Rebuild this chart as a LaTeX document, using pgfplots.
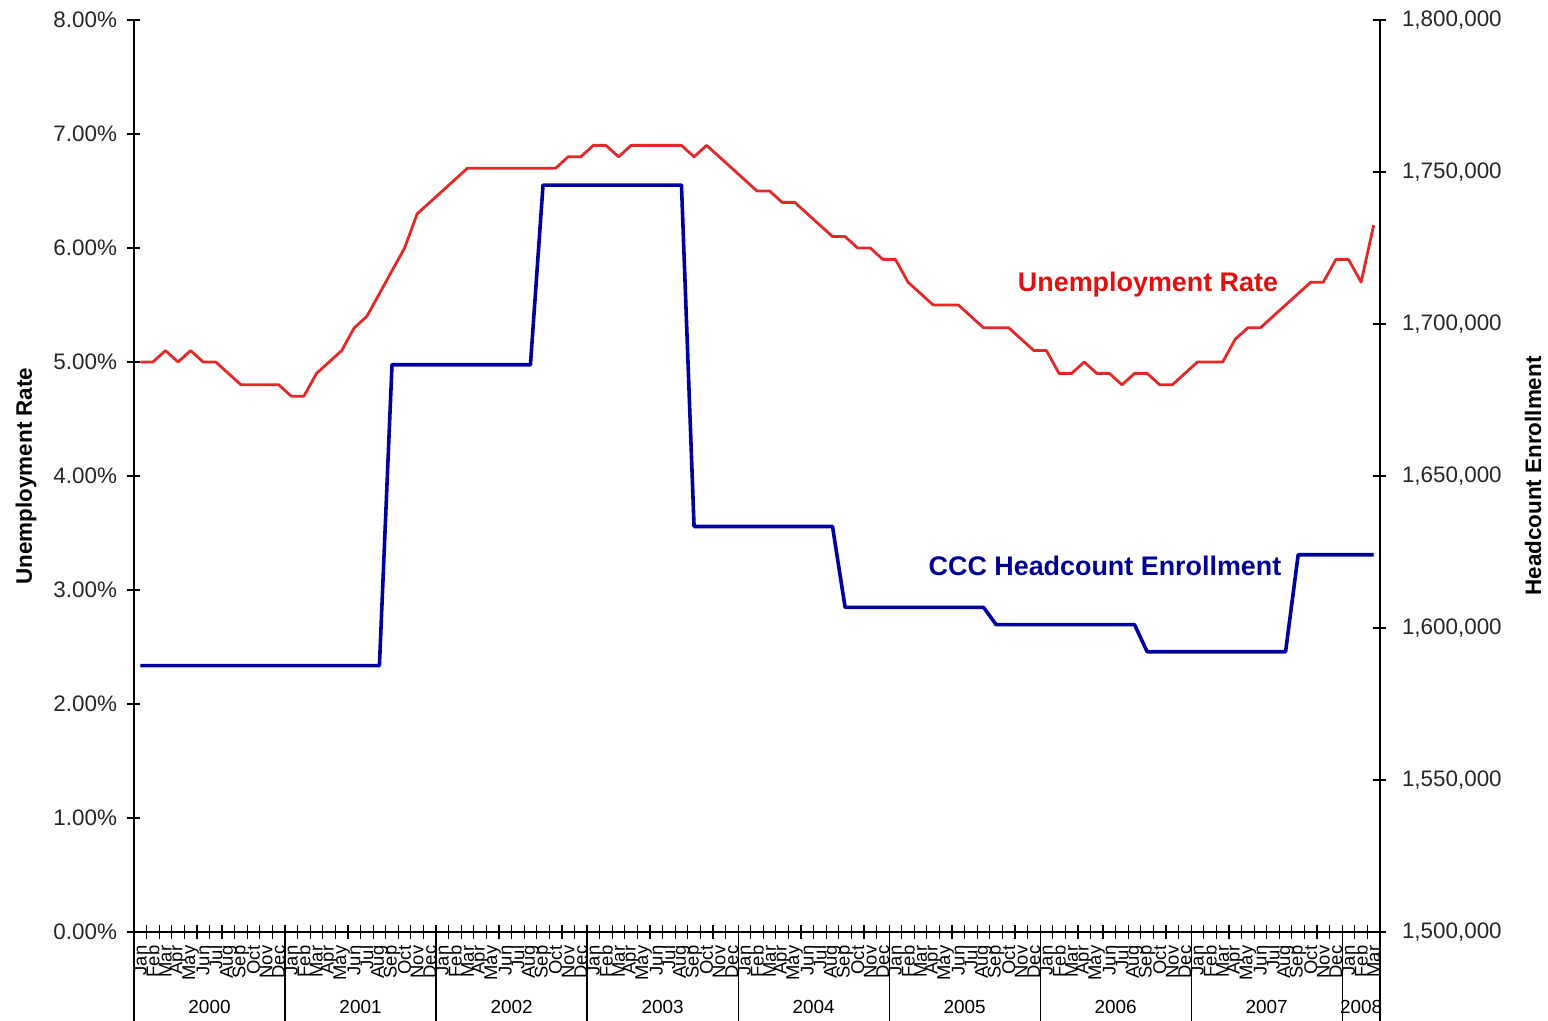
\documentclass[border=0pt]{standalone}
\usepackage{pgfplots}
\usepackage{pgfplotstable}
\pgfplotsset{compat=1.18}
\usepackage{fontspec}
\setmainfont{Liberation Sans}
\definecolor{ured}{RGB}{228,40,40}
\definecolor{utext}{RGB}{222,16,16}
\definecolor{cblue}{RGB}{0,0,160}
\definecolor{ctext}{RGB}{0,0,150}

% California unemployment rate, Jan 2000 - Mar 2008 (monthly)
\pgfplotstableread{
rate
5.0
5.0
5.1
5.0
5.1
5.0
5.0
4.9
4.8
4.8
4.8
4.8
4.7
4.7
4.9
5.0
5.1
5.3
5.4
5.6
5.8
6.0
6.3
6.4
6.5
6.6
6.7
6.7
6.7
6.7
6.7
6.7
6.7
6.7
6.8
6.8
6.9
6.9
6.8
6.9
6.9
6.9
6.9
6.9
6.8
6.9
6.8
6.7
6.6
6.5
6.5
6.4
6.4
6.3
6.2
6.1
6.1
6.0
6.0
5.9
5.9
5.7
5.6
5.5
5.5
5.5
5.4
5.3
5.3
5.3
5.2
5.1
5.1
4.9
4.9
5.0
4.9
4.9
4.8
4.9
4.9
4.8
4.8
4.9
5.0
5.0
5.0
5.2
5.3
5.3
5.4
5.5
5.6
5.7
5.7
5.9
5.9
5.7
6.2
}\unemp

% CCC headcount enrollment, Jan 2000 - Mar 2008 (monthly)
\pgfplotstableread{
enroll
1587600
1587600
1587600
1587600
1587600
1587600
1587600
1587600
1587600
1587600
1587600
1587600
1587600
1587600
1587600
1587600
1587600
1587600
1587600
1587600
1686600
1686600
1686600
1686600
1686600
1686600
1686600
1686600
1686600
1686600
1686600
1686600
1745700
1745700
1745700
1745700
1745700
1745700
1745700
1745700
1745700
1745700
1745700
1745700
1633400
1633400
1633400
1633400
1633400
1633400
1633400
1633400
1633400
1633400
1633400
1633400
1606800
1606800
1606800
1606800
1606800
1606800
1606800
1606800
1606800
1606800
1606800
1606800
1601100
1601100
1601100
1601100
1601100
1601100
1601100
1601100
1601100
1601100
1601100
1601100
1592200
1592200
1592200
1592200
1592200
1592200
1592200
1592200
1592200
1592200
1592200
1592200
1624100
1624100
1624100
1624100
1624100
1624100
1624100
}\ccc

\begin{document}
\begin{tikzpicture}
\useasboundingbox (-134bp,-89bp) rectangle (1414bp,932bp);
\begin{axis}[
  scale only axis, width=1246bp, height=912bp,
  xmin=-0.5, xmax=98.5, ymin=0, ymax=8,
  axis x line*=bottom, axis y line*=left,
  axis line style={line width=1.2bp, black},
  tick style={line width=1.2bp, black},
  tick align=center,
  major tick length=13bp, minor tick length=13bp,
  ytick={0,1,2,3,4,5,6,7,8},
  yticklabel={\pgfmathprintnumber[fixed,fixed zerofill,precision=2]{\tick}\%},
  yticklabel style={font=\fontsize{22.5}{22.5}\selectfont, text=black!85, xshift=-7bp},
  xtick={0,...,98},
  major x tick style={draw=none},
  minor xtick={-0.5,0.5,...,98.5},
  xticklabels={Jan,Feb,Mar,Apr,May,Jun,Jul,Aug,Sep,Oct,Nov,Dec,
    Jan,Feb,Mar,Apr,May,Jun,Jul,Aug,Sep,Oct,Nov,Dec,
    Jan,Feb,Mar,Apr,May,Jun,Jul,Aug,Sep,Oct,Nov,Dec,
    Jan,Feb,Mar,Apr,May,Jun,Jul,Aug,Sep,Oct,Nov,Dec,
    Jan,Feb,Mar,Apr,May,Jun,Jul,Aug,Sep,Oct,Nov,Dec,
    Jan,Feb,Mar,Apr,May,Jun,Jul,Aug,Sep,Oct,Nov,Dec,
    Jan,Feb,Mar,Apr,May,Jun,Jul,Aug,Sep,Oct,Nov,Dec,
    Jan,Feb,Mar,Apr,May,Jun,Jul,Aug,Sep,Oct,Nov,Dec,
    Jan,Feb,Mar},
  xticklabel style={rotate=90, anchor=east, font=\fontsize{18.5}{18.5}\selectfont, inner sep=1bp, xshift=-6bp},
  ylabel={Unemployment Rate},
  ylabel style={at={(axis description cs:-0.0867,0.5)}, anchor=center, rotate=0, font=\fontsize{22.5}{22.5}\selectfont\bfseries},
  /pgf/number format/assume math mode=true,
  clip=false,
]
\addplot[ured, line width=2.8bp, line join=round, mark=none] table[x expr=\coordindex, y=rate]{\unemp};
\draw[line width=1.2bp] (axis cs:-0.5,0) -- ([yshift=-89bp]axis cs:-0.5,0);
\draw[line width=1.2bp] (axis cs:11.5,0) -- ([yshift=-89bp]axis cs:11.5,0);
\draw[line width=1.2bp] (axis cs:23.5,0) -- ([yshift=-89bp]axis cs:23.5,0);
\draw[line width=1.2bp] (axis cs:35.5,0) -- ([yshift=-89bp]axis cs:35.5,0);
\draw[line width=1.2bp] (axis cs:47.5,0) -- ([yshift=-89bp]axis cs:47.5,0);
\draw[line width=1.2bp] (axis cs:59.5,0) -- ([yshift=-89bp]axis cs:59.5,0);
\draw[line width=1.2bp] (axis cs:71.5,0) -- ([yshift=-89bp]axis cs:71.5,0);
\draw[line width=1.2bp] (axis cs:83.5,0) -- ([yshift=-89bp]axis cs:83.5,0);
\draw[line width=1.2bp] (axis cs:95.5,0) -- ([yshift=-89bp]axis cs:95.5,0);
\draw[line width=1.2bp] (axis cs:98.5,0) -- ([yshift=-89bp]axis cs:98.5,0);
\node[font=\fontsize{19}{19}\selectfont, yshift=-75bp] at (axis cs:5.5,0) {2000};
\node[font=\fontsize{19}{19}\selectfont, yshift=-75bp] at (axis cs:17.5,0) {2001};
\node[font=\fontsize{19}{19}\selectfont, yshift=-75bp] at (axis cs:29.5,0) {2002};
\node[font=\fontsize{19}{19}\selectfont, yshift=-75bp] at (axis cs:41.5,0) {2003};
\node[font=\fontsize{19}{19}\selectfont, yshift=-75bp] at (axis cs:53.5,0) {2004};
\node[font=\fontsize{19}{19}\selectfont, yshift=-75bp] at (axis cs:65.5,0) {2005};
\node[font=\fontsize{19}{19}\selectfont, yshift=-75bp] at (axis cs:77.5,0) {2006};
\node[font=\fontsize{19}{19}\selectfont, yshift=-75bp] at (axis cs:89.5,0) {2007};
\node[font=\fontsize{19}{19}\selectfont, yshift=-75bp] at (axis cs:97,0) {2008};
\end{axis}
\begin{axis}[
  scale only axis, width=1246bp, height=912bp,
  xmin=-0.5, xmax=98.5, ymin=1500000, ymax=1800000,
  axis x line=none, axis y line*=right,
  axis line style={line width=1.2bp, black},
  tick style={line width=1.2bp, black},
  tick align=center,
  major tick length=13bp,
  ytick={1500000,1550000,1600000,1650000,1700000,1750000,1800000},
  scaled y ticks=false,
  /pgf/number format/fixed,
  /pgf/number format/1000 sep={,},
  /pgf/number format/assume math mode=true,
  yticklabel style={font=\fontsize{22.5}{22.5}\selectfont, text=black!85, xshift=12bp},
  ylabel={Headcount Enrollment},
  ylabel style={at={(axis description cs:1.1228,0.5)}, anchor=center, rotate=0, font=\fontsize{22.5}{22.5}\selectfont\bfseries},
  clip=false,
]
\addplot[cblue, line width=3.6bp, line join=round, mark=none] table[x expr=\coordindex, y=enroll]{\ccc};
\end{axis}
\node[font=\fontsize{27}{27}\selectfont\bfseries, text=utext] at (1014bp,647bp) {Unemployment Rate};
\node[font=\fontsize{27}{27}\selectfont\bfseries, text=ctext] at (971bp,366bp) {CCC Headcount Enrollment};
\end{tikzpicture}
\end{document}
